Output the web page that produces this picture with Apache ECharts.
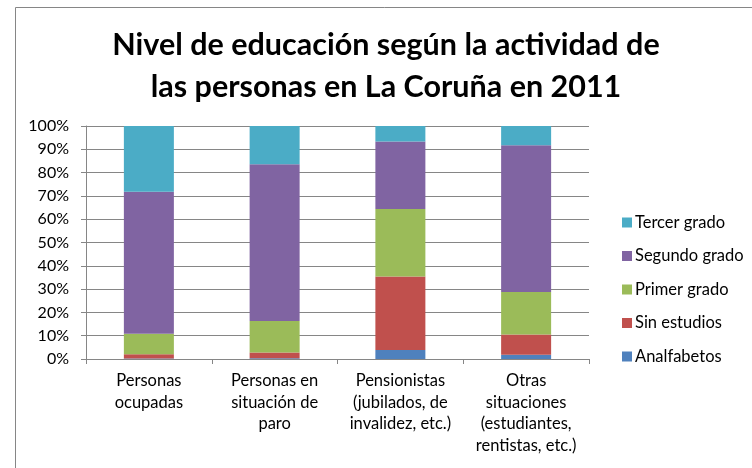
<!DOCTYPE html>
<html>
<head>
<meta charset="utf-8">
<script src="https://cdn.jsdelivr.net/npm/echarts@6/dist/echarts.min.js"></script>
<style>
html,body{margin:0;padding:0;background:#fff;}
#c{width:752px;height:468px;}
</style>
</head>
<body>
<div id="c"></div>
<script>
const categories = [
  "Personas\nocupadas",
  "Personas en\nsituación de\nparo",
  "Pensionistas\n(jubilados, de\ninvalidez, etc.)",
  "Otras\nsituaciones\n(estudiantes,\nrentistas, etc.)"
];
const analfabetos = [0.2, 0.3, 3.9, 1.8];
const sinEstudios = [1.8, 2.5, 31.5, 8.7];
const primerGrado = [8.8, 13.5, 29.0, 18.3];
const segundoGrado = [61.0, 67.3, 28.9, 62.9];
const tercerGrado = [28.2, 16.4, 6.7, 8.3];
const yTicks = [0, 10, 20, 30, 40, 50, 60, 70, 80, 90, 100];

const FONT = "Lato";
const chart = echarts.init(document.getElementById('c'), null, {renderer: 'canvas'});

function s(name, data, color) {
  return {
    name: name, type: 'bar', stack: 'total', data: data,
    barWidth: 50,
    itemStyle: {color: color},
    emphasis: {disabled: true}
  };
}

chart.setOption({
  animation: false,
  backgroundColor: '#fff',
  graphic: [{
    type: 'rect',
    shape: {x: 15.5, y: 7.5, width: 800, height: 500},
    style: {fill: 'none', stroke: '#868686', lineWidth: 1},
    silent: true, z: -10
  }],
  title: {
    text: 'Nivel de educación según la actividad de\nlas personas en La Coruña en 2011',
    left: 381, top: 19, textAlign: 'center',
    textStyle: {fontFamily: FONT, fontWeight: 'bold', fontSize: 30.5, lineHeight: 42, color: '#000'}
  },
  legend: {
    data: ['Tercer grado', 'Segundo grado', 'Primer grado', 'Sin estudios', 'Analfabetos'],
    orient: 'vertical',
    left: 617, top: 209,
    itemWidth: 10, itemHeight: 10, itemGap: 16.5,
    icon: 'rect',
    textStyle: {fontFamily: FONT, fontSize: 16.5, lineHeight: 16.5, color: '#000', padding: [0,0,0,-2]}
  },
  grid: {left: 86, right: 163, top: 126, bottom: 109, containLabel: false},
  xAxis: {
    type: 'category', data: categories,
    axisLine: {lineStyle: {color: '#868686'}},
    axisTick: {show: true, length: 5, lineStyle: {color: '#868686'}, alignWithLabel: false},
    axisLabel: {fontFamily: FONT, fontSize: 16.5, lineHeight: 21.5, color: '#000', margin: 11, interval: 0, verticalAlign: 'top'}
  },
  yAxis: {
    type: 'value', min: 0, max: 100, interval: 10,
    axisLine: {show: true, lineStyle: {color: '#868686'}},
    axisTick: {show: true, length: 5, lineStyle: {color: '#868686'}},
    splitLine: {lineStyle: {color: '#868686'}},
    axisLabel: {
      fontFamily: FONT, fontSize: 16, color: '#000', margin: 17,
      formatter: function (v) { return yTicks.indexOf(v) >= 0 ? v + '%' : ''; }
    }
  },
  series: [
    s('Analfabetos', analfabetos, '#4F81BD'),
    s('Sin estudios', sinEstudios, '#C0504D'),
    s('Primer grado', primerGrado, '#9BBB59'),
    s('Segundo grado', segundoGrado, '#8064A2'),
    s('Tercer grado', tercerGrado, '#4BACC6')
  ]
});
</script>
</body>
</html>
